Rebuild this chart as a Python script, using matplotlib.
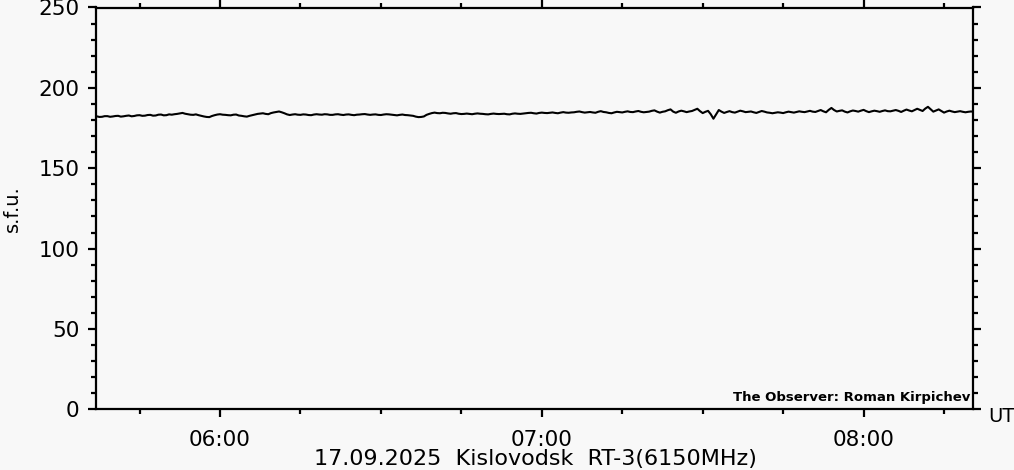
import numpy as np
import matplotlib
matplotlib.use('Agg')
import matplotlib.pyplot as plt
from matplotlib.ticker import MultipleLocator, FuncFormatter

# Flux readings (s.f.u.) from 05:36 UT to 08:20 UT
# flux_min: samples on the whole minute, flux_half: samples at minute + 30 s
start_minute = 5 * 60 + 36
flux_min = [
    182.1, 182.3, 182.0, 182.4, 182.2, 182.6, 182.3, 182.8, 182.5, 183.0, 182.7, 183.2, 182.8, 183.4, 183.0,
    183.3, 183.8, 184.4, 183.6, 183.2, 183.0, 182.2, 181.8, 183.0, 183.6, 183.2, 182.9, 183.4, 182.6, 182.1,
    183.0, 183.8, 184.2, 183.6, 184.7, 185.3, 184.2, 183.1, 183.6, 183.2, 183.4, 183.0, 183.6, 183.3, 183.5,
    183.2, 183.6, 183.1, 183.5, 183.0, 183.4, 183.7, 183.2, 183.5, 183.1, 183.6, 183.3, 182.9, 183.4, 183.0,
    182.6, 181.8, 182.2, 183.8, 184.6, 184.2, 184.4, 183.9, 184.3, 183.7, 184.0, 183.6, 184.1, 183.8, 183.5,
    184.0, 183.7, 183.9, 183.5, 184.1, 183.8, 184.2, 184.5, 184.0, 184.6, 184.3, 184.7, 184.2, 184.9, 184.5,
    184.8, 185.3, 184.6, 185.0, 184.5, 185.5, 184.8, 184.2, 185.1, 184.7, 185.4, 184.9, 185.6, 184.8, 185.2,
    186.0, 184.6, 185.4, 186.6, 184.5, 185.8, 184.9, 185.6, 187.0, 184.3, 185.7, 180.8, 186.2, 184.4, 185.5,
    184.6, 185.8, 184.9, 185.3, 184.4, 185.6, 184.7, 184.2, 184.8, 184.3, 185.2, 184.6, 185.4, 184.9, 185.7,
    185.0, 186.2, 184.8, 187.5, 185.3, 186.0, 184.7, 185.9, 185.2, 186.3, 184.9, 185.8, 185.1, 186.0, 185.4,
    186.2, 185.0, 186.5, 185.4, 187.0, 185.6, 188.2, 185.2, 186.6, 184.6, 185.8, 184.9, 185.5, 184.8, 185.3,
]
flux_half = [
    182.5, 181.9, 182.4, 182.0, 182.5, 182.1, 182.6, 182.3, 182.9, 182.6, 183.1, 182.7, 183.3, 182.9, 183.5,
    183.6, 184.1, 183.9, 183.3, 183.5, 182.6, 181.9, 182.5, 183.4, 183.3, 183.0, 183.3, 182.8, 182.3, 182.6,
    183.4, 184.0, 183.8, 184.3, 185.0, 184.8, 183.5, 183.4, 183.3, 183.5, 183.1, 183.4, 183.4, 183.6, 183.2,
    183.5, 183.3, 183.4, 183.2, 183.3, 183.6, 183.4, 183.4, 183.2, 183.4, 183.5, 183.1, 183.2, 183.1, 182.8,
    182.1, 181.9, 183.2, 184.3, 184.3, 184.5, 184.1, 184.2, 183.9, 183.8, 183.8, 183.9, 183.9, 183.6, 183.8,
    183.8, 183.8, 183.6, 183.9, 183.9, 184.0, 184.4, 184.2, 184.4, 184.4, 184.5, 184.4, 184.6, 184.6, 184.7,
    185.1, 184.9, 184.8, 184.7, 185.1, 185.0, 184.4, 184.7, 184.9, 185.1, 185.0, 185.3, 185.1, 185.0, 185.7,
    185.2, 185.1, 186.1, 185.2, 185.3, 185.4, 185.3, 186.3, 185.5, 185.1, 183.6, 183.5, 185.2, 185.0, 184.9,
    185.2, 185.4, 185.1, 184.8, 185.0, 185.2, 184.5, 184.5, 184.6, 184.8, 184.9, 185.0, 185.1, 185.3, 185.2,
    185.6, 185.4, 186.3, 186.2, 185.7, 185.2, 185.4, 185.6, 185.8, 185.5, 185.4, 185.5, 185.6, 185.5, 185.8,
    185.7, 185.8, 185.9, 186.2, 186.3, 187.1, 186.7, 185.9, 185.6, 185.3, 185.3, 185.2, 185.1, 185.1, 185.2,
]

# interleave the two sample sets in time order
minutes = start_minute + np.arange(len(flux_min)) * 1.0
t = np.column_stack([minutes, minutes + 0.5]).ravel()
flux = np.column_stack([flux_min, flux_half]).ravel()

x_range = (5 * 60 + 36.87, 8 * 60 + 20.4)
y_range = (0, 250)

bg = '#f8f8f8'
fig = plt.figure(figsize=(10.14, 4.70), dpi=100, facecolor=bg)
ax = fig.add_axes([96 / 1014, 1 - 409.3 / 470, 877 / 1014, 401.8 / 470])
ax.set_facecolor(bg)

ax.plot(t, flux, color='black', lw=1.5)

ax.set_xlim(*x_range)
ax.set_ylim(*y_range)

ax.xaxis.set_major_locator(MultipleLocator(60))
ax.xaxis.set_minor_locator(MultipleLocator(15))
ax.xaxis.set_major_formatter(FuncFormatter(lambda v, p: '%02d:%02d' % (int(v) // 60, int(v) % 60)))
ax.yaxis.set_major_locator(MultipleLocator(50))
ax.yaxis.set_minor_locator(MultipleLocator(10))

for s in ax.spines.values():
    s.set_linewidth(1.6)

ax.tick_params(which='both', direction='out', top=True, right=True, width=1.6, colors='black')
ax.tick_params(which='major', length=6, labelsize=15.5)
ax.tick_params(which='minor', length=3.5)
ax.tick_params(axis='y', which='major', pad=6)
ax.tick_params(axis='x', which='major', pad=9)

ax.set_ylabel('s.f.u.', fontsize=14, labelpad=12)

ax.text(0.9975, 0.012, 'The Observer: Roman Kirpichev', transform=ax.transAxes,
        ha='right', va='bottom', fontsize=9.5, fontweight='bold')
fig.text(988 / 1014, 1 - 416 / 470, 'UT', ha='left', va='center', fontsize=14)
fig.text(535 / 1014, 1 - 459 / 470, '17.09.2025  Kislovodsk  RT-3(6150MHz)',
         ha='center', va='center', fontsize=16)

fig.savefig('out.png', dpi=100, facecolor=bg)
